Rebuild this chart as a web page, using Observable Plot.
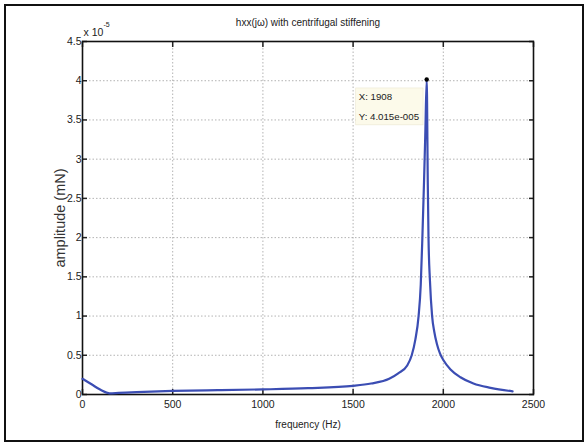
<!DOCTYPE html>
<html><head><meta charset="utf-8">
<script src="https://cdn.jsdelivr.net/npm/d3@7"></script>
<script src="https://cdn.jsdelivr.net/npm/@observablehq/plot@0.6"></script>
<style>
html,body{margin:0;padding:0;background:#fff;}
#wrap{position:relative;width:586px;height:443px;overflow:hidden;}
#border{position:absolute;left:4px;top:4px;width:576px;height:434px;border:2px solid #111;pointer-events:none;}
</style></head><body><div id="wrap"><div id="chart"></div><div id="border"></div></div>
<script>
// frequency (Hz)
const freq = [0, 50, 100, 150, 200, 300, 500, 750, 1000, 1250, 1500, 1600, 1700, 1750, 1800, 1825, 1845, 1863, 1875, 1884, 1893, 1900, 1908, 1914, 1918, 1926, 1938, 1950, 1965, 1982, 2000, 2040, 2095, 2167, 2262, 2384];
// amplitude (x 1e-5 mN)
const amp = [0.20, 0.13, 0.06, 0.015, 0.02, 0.03, 0.045, 0.055, 0.065, 0.08, 0.11, 0.14, 0.20, 0.27, 0.37, 0.50, 0.70, 1.0, 1.4, 2.0, 2.7, 3.3, 4.015, 2.7, 2.0, 1.45, 1.0, 0.80, 0.64, 0.52, 0.44, 0.32, 0.22, 0.14, 0.085, 0.04];

const xTicks = [0, 500, 1000, 1500, 2000, 2500];
const yTicks = [0, 0.5, 1, 1.5, 2, 2.5, 3, 3.5, 4, 4.5];
const yTickLabels = ["0", "0.5", "1", "1.5", "2", "2.5", "3", "3.5", "4", "4.5"];
const title = "hxx(jω) with centrifugal stiffening";
const xLabel = "frequency (Hz)";
const yLabel = "amplitude (mN)";
const expBase = "x 10";
const expPower = "-5";
const peakX = 1908;
const peakY = 4.015;
const tipText = "X: 1908\nY: 4.015e-005";

const data = freq.map((f, i) => ({f, a: amp[i]}));
const font = "'Liberation Sans', Arial, sans-serif";

const plot = Plot.plot({
  width: 586,
  height: 443,
  marginLeft: 82,
  marginRight: 53,
  marginTop: 41,
  marginBottom: 49,
  style: {fontFamily: font, fontSize: "10px", color: "#222", background: "#fff"},
  x: {domain: [0, 2500], ticks: xTicks},
  y: {domain: [0, 4.5], ticks: yTicks},
  marks: [
    Plot.gridX(xTicks, {stroke: "#9a9a9a", strokeOpacity: 0.75, strokeDasharray: "1.5,2", strokeWidth: 1}),
    Plot.gridY(yTicks, {stroke: "#9a9a9a", strokeOpacity: 0.75, strokeDasharray: "1.5,2", strokeWidth: 1}),
    Plot.axisX(xTicks, {anchor: "bottom", tickSize: -5, text: null, label: null, strokeWidth: 1.5}),
    Plot.axisX(xTicks, {anchor: "top", tickSize: -5, text: null, label: null, strokeWidth: 1.5}),
    Plot.axisY(yTicks, {anchor: "left", tickSize: -5, text: null, label: null, strokeWidth: 1.5}),
    Plot.axisY(yTicks, {anchor: "right", tickSize: -5, text: null, label: null, strokeWidth: 1.5}),
    Plot.axisX(xTicks, {anchor: "bottom", tickSize: 0, tickPadding: 6, label: null, tickFormat: d => String(d), fill: "#222", fontSize: 10.5}),
    Plot.axisY(yTicks, {anchor: "left", tickSize: 0, tickPadding: 1, label: null, tickFormat: d => yTickLabels[yTicks.indexOf(d)], fill: "#222", fontSize: 10.5}),
    Plot.frame({stroke: "#111", strokeWidth: 1.6}),
    Plot.line(data, {x: "f", y: "a", stroke: "#3b4db3", strokeWidth: 2.2, curve: "monotone-x"}),
    Plot.text([tipText], {x: () => peakX, y: () => peakY, textAnchor: "start", lineAnchor: "middle", lineHeight: 2.05, dx: -68, dy: 24, fill: "#222", fontSize: 9.7, className: "datatip"}),
    Plot.dot([0], {x: () => peakX, y: () => peakY, r: 2.2, fill: "#000"}),
    Plot.text([title], {frameAnchor: "top", lineAnchor: "middle", dy: -19, fontSize: 10, fill: "#222"}),
    Plot.text([xLabel], {frameAnchor: "bottom", lineAnchor: "middle", dy: 30, fontSize: 10, fill: "#222"}),
    Plot.text([yLabel], {frameAnchor: "left", textAnchor: "middle", lineAnchor: "middle", rotate: -90, dx: -22, fontSize: 14.5, fill: "#333"}),
    Plot.text([expBase], {frameAnchor: "top-left", textAnchor: "start", lineAnchor: "middle", dx: 1, dy: -9, fontSize: 10.5, fill: "#222"}),
    Plot.text([expPower], {frameAnchor: "top-left", textAnchor: "start", lineAnchor: "middle", dx: 21, dy: -17, fontSize: 7, fill: "#222"})
  ]
});
document.getElementById("chart").appendChild(plot);

// background box for the data tip
const tipG = plot.querySelector("g.datatip");
if (tipG) {
  const t = tipG.querySelector("text");
  const bb = t.getBBox();
  const tr = t.getAttribute("transform");
  const rect = document.createElementNS("http://www.w3.org/2000/svg", "rect");
  rect.setAttribute("x", bb.x - 3);
  rect.setAttribute("y", bb.y - 3);
  rect.setAttribute("width", bb.width + 7);
  rect.setAttribute("height", bb.height + 6);
  rect.setAttribute("fill", "#fcfaea");
  rect.setAttribute("stroke", "#ebe7d0");
  rect.setAttribute("stroke-width", "0.6");
  if (tr) rect.setAttribute("transform", tr);
  tipG.insertBefore(rect, t);
}
</script></body></html>
